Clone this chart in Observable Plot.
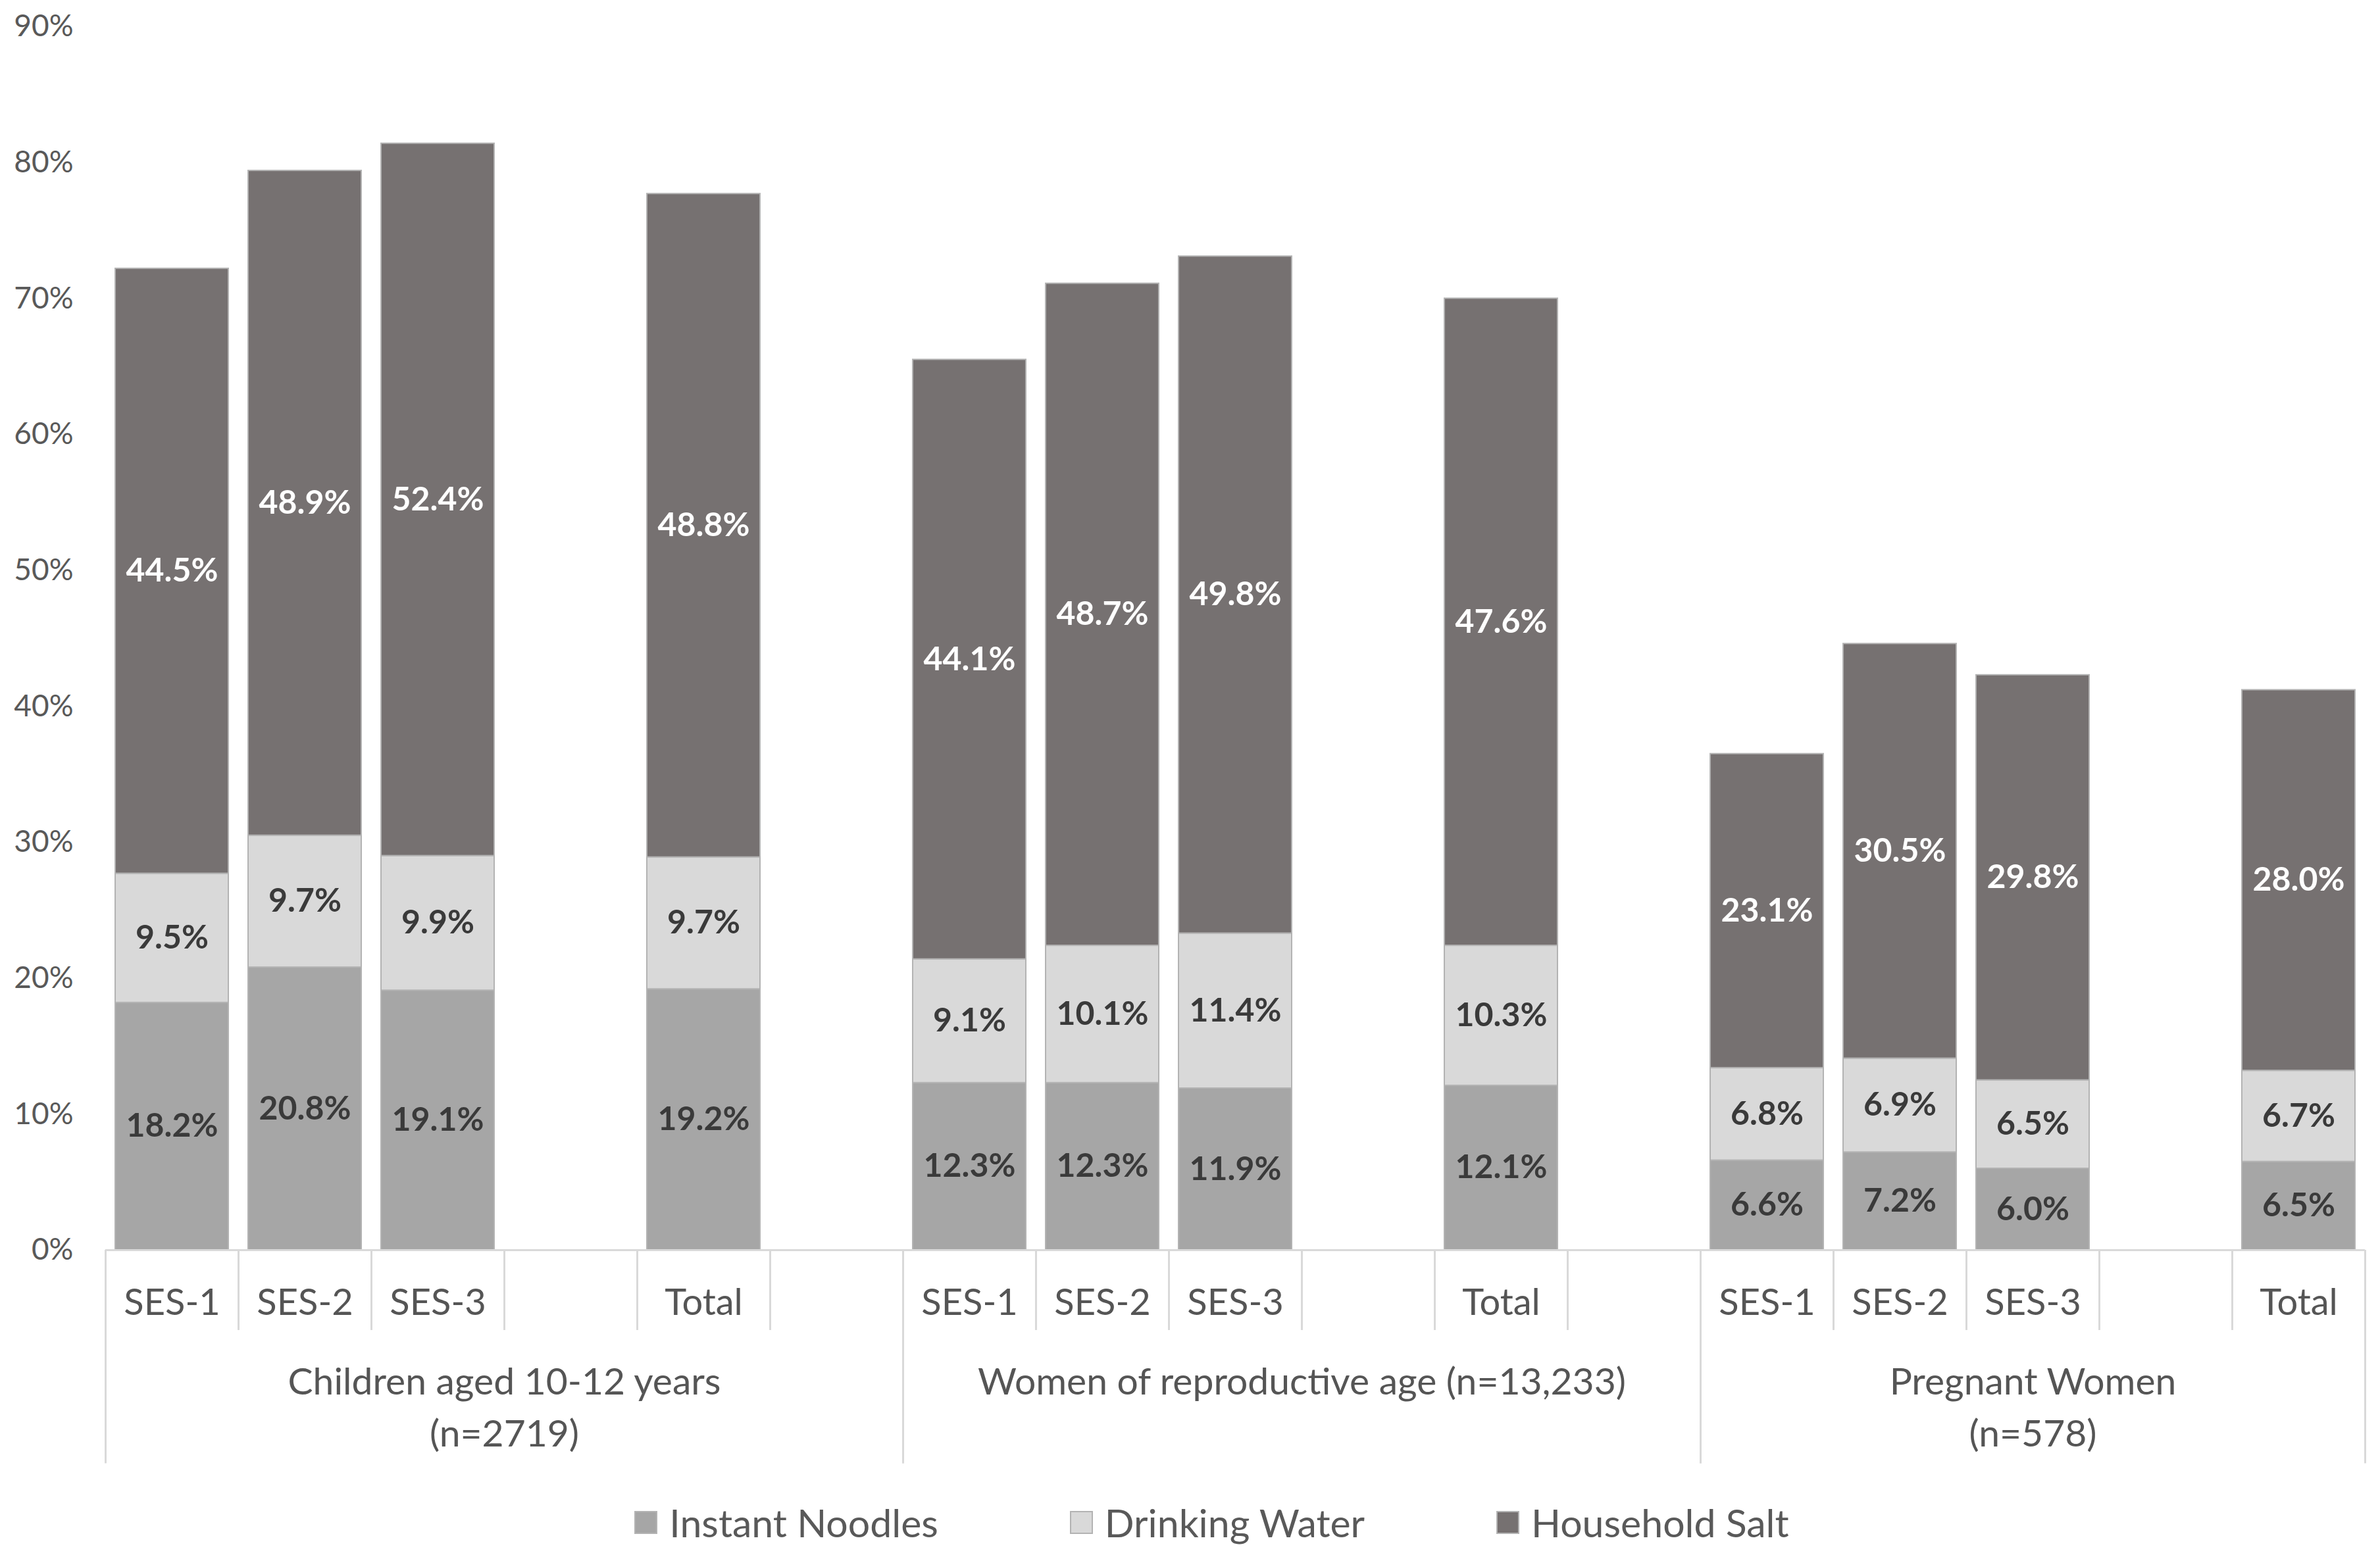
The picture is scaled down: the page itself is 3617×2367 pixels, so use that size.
<!DOCTYPE html>
<html><head><meta charset="utf-8">
<script src="https://cdn.jsdelivr.net/npm/d3@7"></script>
<script src="https://cdn.jsdelivr.net/npm/@observablehq/plot@0.6"></script>
<style>
body{margin:0;background:#fff;font-family:Lato,"Liberation Sans",sans-serif;}
#legend{display:flex;justify-content:center;align-items:center;height:108px;margin-left:66px;font-size:59px;color:#595959;}
.item{display:flex;align-items:center;margin:0 100px;}
.sw{width:35px;height:35px;margin-right:18px;box-sizing:border-box;}
</style></head><body>
<div id="chart"></div>
<div id="legend"></div>
<script>
// ---- data ----
const groups = ["Children aged 10-12 years\n(n=2719)", "Women of reproductive age (n=13,233)", "Pregnant Women\n(n=578)"];
const slotLabels = ["SES-1", "SES-2", "SES-3", "", "Total", ""];
const barCategories = ["SES-1", "SES-2", "SES-3", "Total"];
const items = ["Instant Noodles", "Drinking Water", "Household Salt"];
const colors = ["#a6a6a6", "#d9d9d9", "#767171"];
const noodles = [18.2, 20.8, 19.1, 19.2, 12.3, 12.3, 11.9, 12.1, 6.6, 7.2, 6.0, 6.5];
const water   = [9.5, 9.7, 9.9, 9.7, 9.1, 10.1, 11.4, 10.3, 6.8, 6.9, 6.5, 6.7];
const salt    = [44.5, 48.9, 52.4, 48.8, 44.1, 48.7, 49.8, 47.6, 23.1, 30.5, 29.8, 28.0];
const yTicks = [0, 10, 20, 30, 40, 50, 60, 70, 80, 90];

// ---- build tables ----
const slots = [];
groups.forEach((g, gi) => {
  const labs = gi === groups.length - 1 ? slotLabels.slice(0, 5) : slotLabels;
  labs.forEach((lab, i) => slots.push({key: gi + "|" + i, label: lab, group: gi, index: i, last: i === labs.length - 1}));
});
const series = [noodles, water, salt];
const rows = [];
groups.forEach((g, gi) => {
  barCategories.forEach((c, ci) => {
    const k = gi * barCategories.length + ci;
    const slot = slots.find(s => s.group === gi && s.label === c);
    items.forEach((it, ii) => rows.push({key: slot.key, item: it, value: series[ii][k]}));
  });
});

const W = 3617, H = 2260, ML = 160, MR = 23, MT = 40, MB = 360;
const step = (W - ML - MR) / slots.length;
const tickLen = 5.9, groupLen = 15.7; // in axis units below baseline
const font = 'Lato,"Liberation Sans",sans-serif';

const chart = Plot.plot({
  width: W, height: H,
  marginLeft: ML, marginRight: MR, marginTop: MT, marginBottom: MB,
  style: {fontFamily: font, background: "#fff"},
  x: {domain: slots.map(s => s.key), paddingInner: 0.15, paddingOuter: 0.075, axis: null},
  y: {domain: [0, 90], axis: null},
  color: {domain: items, range: colors},
  marks: [
    Plot.axisY(yTicks, {tickSize: 0, tickPadding: 49, tickFormat: d => d + "%", fontSize: 46, fill: "#595959", label: null}),
    Plot.barY(rows, {x: "key", y: "value", fill: "item", z: "item", stroke: "#b3b3b3", strokeWidth: 2}),
    Plot.text(rows, Plot.stackY({x: "key", y: "value", z: "item",
      text: d => d.value.toFixed(1) + "%",
      fill: d => d.item === "Household Salt" ? "#ffffff" : "#3a3a3a",
      fontSize: 50, fontWeight: "bold"})),
    Plot.ruleY([0], {stroke: "#d9d9d9", strokeWidth: 3}),
    Plot.ruleX(slots, {x: "key", dx: -step / 2, y1: 0, y2: d => d.index === 0 ? -groupLen : -tickLen, stroke: "#d9d9d9", strokeWidth: 3}),
    Plot.ruleX(slots.filter(s => s.last), {x: "key", dx: step / 2, y1: 0, y2: -groupLen, stroke: "#d9d9d9", strokeWidth: 3}),
    Plot.text(slots.filter(s => s.label), {x: "key", y: 0, dy: 81, text: "label", fontSize: 56, fill: "#555555", lineAnchor: "middle"}),
    Plot.text(groups.slice(0, 2), {x: (d, i) => i + "|3", y: 0, dx: -step / 2, dy: 164, text: d => d, fontSize: 57, fill: "#555555", lineAnchor: "top", lineHeight: 1.38}),
    Plot.text(groups.slice(2), {x: () => "2|2", y: 0, dy: 164, text: d => d, fontSize: 57, fill: "#555555", lineAnchor: "top", lineHeight: 1.38})
  ]
});
document.getElementById("chart").appendChild(chart);

const legend = document.getElementById("legend");
items.forEach((it, i) => {
  const el = document.createElement("div");
  el.className = "item";
  el.innerHTML = `<div class="sw" style="background:${colors[i]};border:2px solid #b3b3b3"></div><span>${it}</span>`;
  legend.appendChild(el);
});
</script>
</body></html>
